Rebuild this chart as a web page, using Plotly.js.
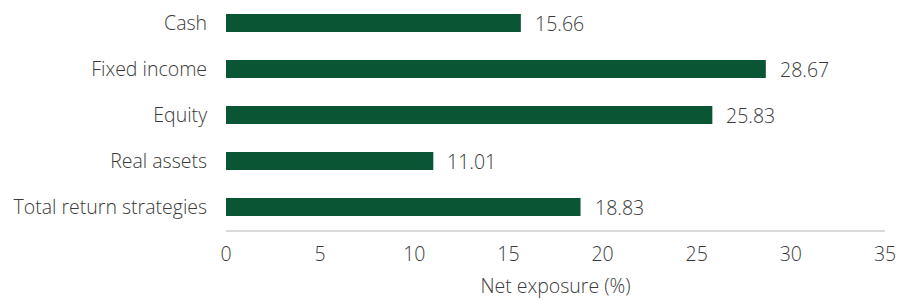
<!DOCTYPE html>
<html>
<head>
<meta charset="utf-8">
<script src="https://cdn.plot.ly/plotly-3.0.1.min.js"></script>
<style>html,body{margin:0;padding:0;background:#fff;}#chart{width:899px;height:300px;}</style>
</head>
<body>
<div id="chart"></div>
<script>
const categories = ["Cash", "Fixed income", "Equity", "Real assets", "Total return strategies"];
const values = [15.66, 28.67, 25.83, 11.01, 18.83];
const xTicks = [0, 5, 10, 15, 20, 25, 30, 35];

const FONT = "Open Sans, Lato, sans-serif";
const TXT = "#3a3a3a";
const FS = 19.5;
const FW = 300;

const trace = {
  type: "bar",
  orientation: "h",
  y: categories,
  x: values,
  marker: {color: "#0a5533"},
  hoverinfo: "none"
};

const annotations = categories.map((c, i) => ({
  x: values[i], y: c, xref: "x", yref: "y",
  text: values[i].toFixed(2), showarrow: false,
  xanchor: "left", xshift: 12,
  font: {family: FONT, size: FS, color: TXT, weight: FW}
}));

const layout = {
  width: 899, height: 300,
  margin: {l: 226, r: 14, t: 0, b: 70},
  paper_bgcolor: "#fff", plot_bgcolor: "#fff",
  showlegend: false,
  bargap: 0.61,
  font: {family: FONT, size: FS, color: TXT, weight: FW},
  xaxis: {
    range: [0, 35],
    tickvals: xTicks,
    ticktext: xTicks.map(String),
    showgrid: false, zeroline: false,
    showline: true, linecolor: "#dadada", linewidth: 2,
    ticks: "outside", ticklen: 6, tickcolor: "rgba(0,0,0,0)",
    tickfont: {family: FONT, size: FS, color: TXT, weight: FW},
    title: {text: "Net exposure (%)", font: {family: FONT, size: FS, color: TXT, weight: FW}, standoff: 13}
  },
  yaxis: {
    autorange: "reversed",
    showgrid: false, zeroline: false, showline: false,
    ticks: "outside", ticklen: 14, tickcolor: "rgba(0,0,0,0)",
    tickfont: {family: FONT, size: FS, color: TXT, weight: FW}
  },
  annotations: annotations
};

Plotly.newPlot("chart", [trace], layout, {displayModeBar: false, staticPlot: true});
</script>
</body>
</html>
